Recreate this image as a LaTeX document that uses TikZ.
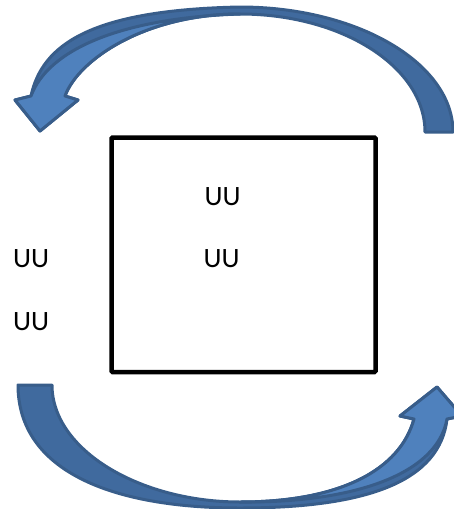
\documentclass[tikz,border=0pt]{standalone}
\usepackage{fontspec}
\setmainfont{Carlito}
\definecolor{lightblue}{HTML}{4F81BD}
\definecolor{darkblue}{HTML}{406A9E}
\definecolor{edgeblue}{HTML}{385D8A}
\begin{document}
\begin{tikzpicture}[x=1pt,y=-1pt,
  arrowdark/.style={fill=darkblue,draw=edgeblue,line width=3pt,line join=round},
  arrowlight/.style={fill=lightblue,draw=edgeblue,line width=3pt,line join=round},
  lbl/.style={font=\fontsize{28}{34}\selectfont,inner sep=0pt,text=black},
  boxstyle/.style={draw=black,line width=4.5pt,rounded corners=1pt,inner sep=0pt}]
\useasboundingbox (0,0) rectangle (454,509);
% top curved arrow
\path[arrowdark] (453,132) -- (425,132) .. controls (425,67) and (342,14) .. (240,14)
  .. controls (145,14) and (78,60) .. (65,96) -- (78,100) -- (40,131) -- (15,100) -- (31,96)
  .. controls (42,45) and (90,10) .. (240,7) .. controls (357,7) and (453,63) .. (453,132) -- cycle;
\path[arrowlight] (65,96) -- (78,100) -- (40,131) -- (15,100) -- (31,96)
  .. controls (48,50) and (120,18) .. (240,14) .. controls (145,14) and (78,60) .. (65,96) -- cycle;
% bottom curved arrow
\path[arrowdark] (18,385) -- (52,385) .. controls (52,450) and (140,502) .. (240,502)
  .. controls (340,502) and (400,470) .. (414,419) -- (400,416) -- (437,387) -- (462,416) -- (447,419)
  .. controls (440,480) and (370,508) .. (240,508) .. controls (110,508) and (18,470) .. (18,385) -- cycle;
\path[arrowlight] (240,502) .. controls (340,502) and (400,470) .. (414,419) -- (400,416) -- (437,387)
  -- (462,416) -- (447,419) .. controls (437,474) and (355,503) .. (240,502) -- cycle;
% box
\node[boxstyle,minimum width=264pt,minimum height=234.5pt] (box) at (243.5,254.75) {};
% labels
\node[lbl] (t1) at (222.5,197) {UU};
\node[lbl] (t2) at (221.5,258.5) {UU};
\node[lbl] (t3) at (31,258.5) {UU};
\node[lbl] (t4) at (31,322) {UU};
\end{tikzpicture}
\end{document}
